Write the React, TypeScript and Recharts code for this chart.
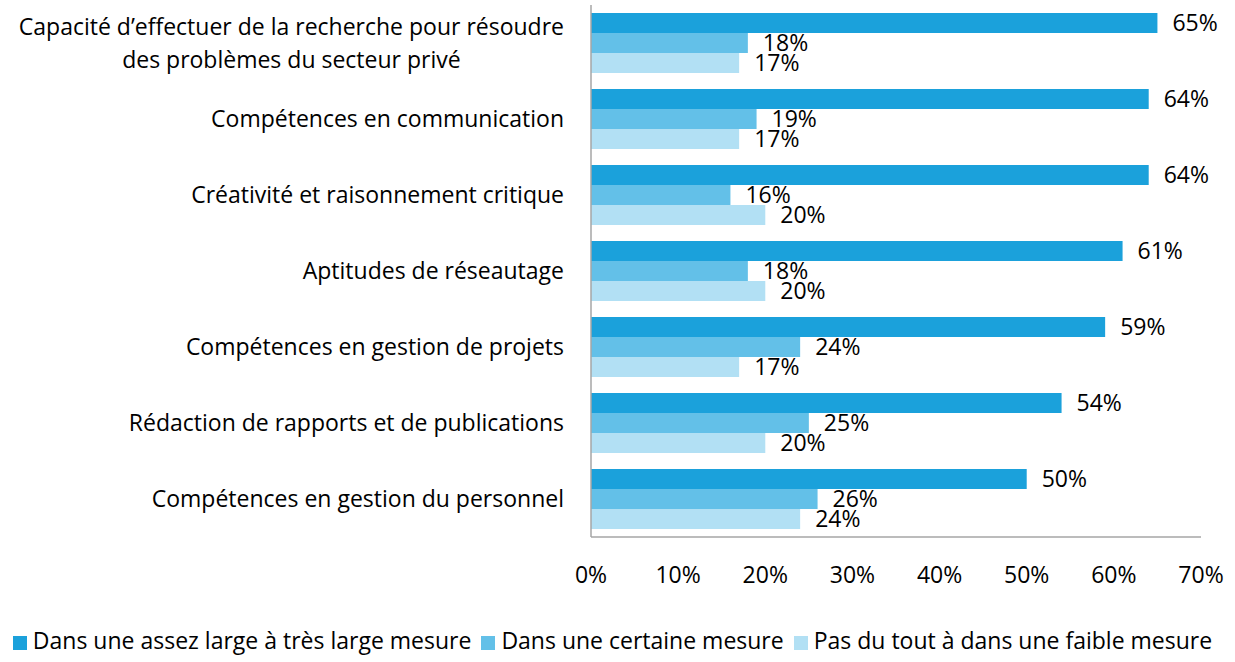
import React from "react";
import { BarChart, Bar, XAxis, YAxis, Legend, LabelList } from "recharts";

const categories = [
  "Capacité d’effectuer de la recherche pour résoudre\ndes problèmes du secteur privé",
  "Compétences en communication",
  "Créativité et raisonnement critique",
  "Aptitudes de réseautage",
  "Compétences en gestion de projets",
  "Rédaction de rapports et de publications",
  "Compétences en gestion du personnel",
];
const seriesLarge = [65, 64, 64, 61, 59, 54, 50];
const seriesCertaine = [18, 19, 16, 18, 24, 25, 26];
const seriesFaible = [17, 17, 20, 20, 17, 20, 24];
const seriesNames = [
  "Dans une assez large à très large mesure",
  "Dans une certaine mesure",
  "Pas du tout à dans une faible mesure",
];
const xTicks = [0, 10, 20, 30, 40, 50, 60, 70];

const colors = ["#1BA1DB", "#63C0E8", "#B2E0F4"];
const FONT = "'Open Sans', sans-serif";
const FS = 23;

const data = categories.map((c, i) => ({
  name: c,
  a: seriesLarge[i],
  b: seriesCertaine[i],
  c: seriesFaible[i],
}));

let ctx: CanvasRenderingContext2D | null = null;
function measure(t: string) {
  if (!ctx) {
    const cv = document.createElement("canvas");
    ctx = cv.getContext("2d");
  }
  if (!ctx) return t.length * FS * 0.5;
  ctx.font = `${FS}px 'Open Sans'`;
  return ctx.measureText(t).width;
}

const CatTick = (props: any) => {
  const { x, y, payload } = props;
  const lines = String(payload.value).split("\n");
  if (lines.length === 1) {
    return (
      <text x={x} y={y} dy="0.35em" textAnchor="end" fontFamily={FONT} fontSize={FS} fill="#000">
        {lines[0]}
      </text>
    );
  }
  const w = Math.max(...lines.map(measure));
  const cx = x - w / 2;
  const lh = 33;
  const start = y - ((lines.length - 1) * lh) / 2;
  return (
    <g>
      {lines.map((l, i) => (
        <text key={i} x={cx} y={start + i * lh} dy="0.35em" textAnchor="middle" fontFamily={FONT} fontSize={FS} fill="#000">
          {l}
        </text>
      ))}
    </g>
  );
};

const pct = (v: any) => `${v}%`;

export default function App() {
  return (
    <div style={{ position: "absolute", left: 0, top: 0, width: 1235, height: 662, background: "#fff" }}>
      <BarChart
        width={1235}
        height={662}
        data={data}
        layout="vertical"
        margin={{ top: 5, right: 34, left: 0, bottom: 23 }}
        barCategoryGap={8}
        barGap={0}
      >
        <XAxis
          type="number"
          domain={[0, 70]}
          ticks={xTicks}
          tickFormatter={pct}
          axisLine={{ stroke: "#A6A6A6", strokeWidth: 1.5 }}
          tickLine={false}
          tickMargin={24}
          height={70}
          tick={{ fontFamily: FONT, fontSize: FS, fill: "#000" }}
          interval={0}
        />
        <YAxis
          type="category"
          dataKey="name"
          width={591}
          axisLine={{ stroke: "#A6A6A6", strokeWidth: 1.5 }}
          tickLine={false}
          tickMargin={21}
          tick={<CatTick />}
          interval={0}
        />
        <Legend
          verticalAlign="bottom"
          align="center"
          iconType="square"
          iconSize={14}
          wrapperStyle={{ fontFamily: FONT, fontSize: FS, color: "#000", top: 624, bottom: "auto", left: 0, width: 1235, lineHeight: "32px" }}
          formatter={(v: any) => <span style={{ color: "#000", marginLeft: 2 }}>{v}</span>}
        />
        {(["a", "b", "c"] as const).map((k, i) => (
          <Bar key={k} dataKey={k} name={seriesNames[i]} fill={colors[i]} isAnimationActive={false}>
            <LabelList
              dataKey={k}
              position="right"
              offset={15}
              formatter={pct}
              style={{ fontFamily: FONT, fontSize: FS, fill: "#000" }}
            />
          </Bar>
        ))}
      </BarChart>
    </div>
  );
}
